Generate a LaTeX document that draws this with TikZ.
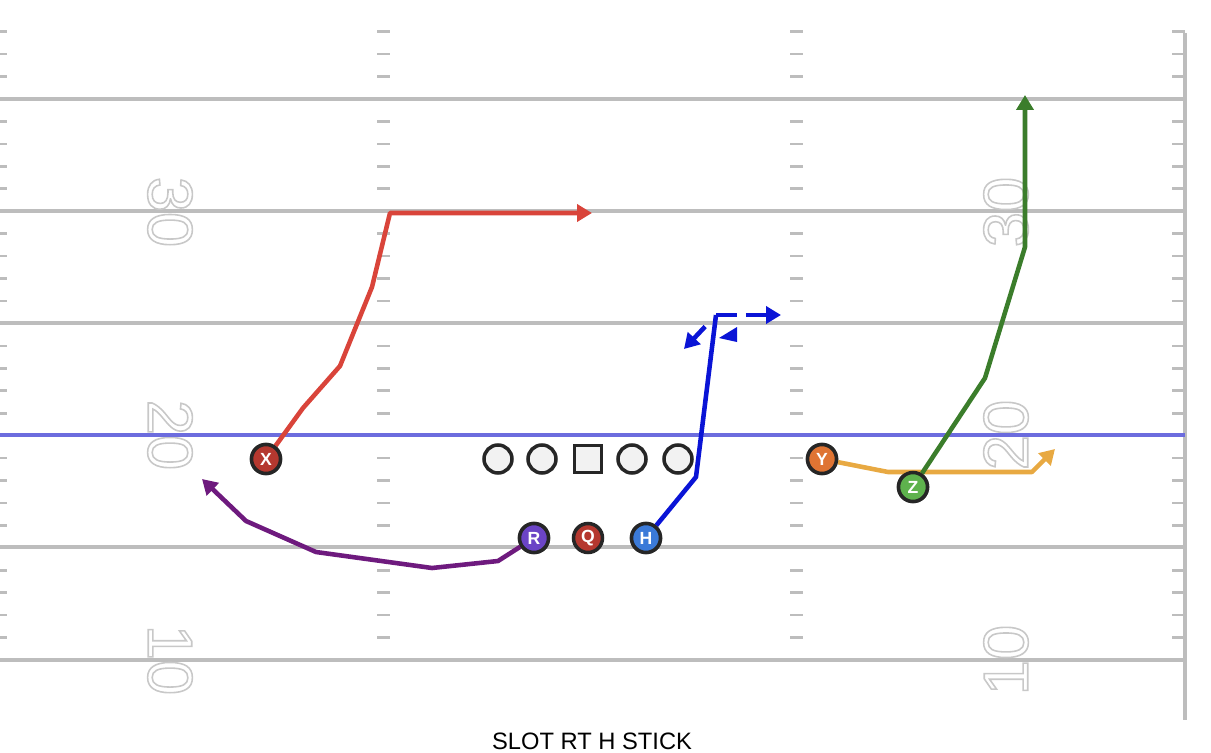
\documentclass[tikz,border=0pt]{standalone}
\usepackage{fontspec}
\setsansfont{Liberation Sans}
\usepackage{tikz}
\usetikzlibrary{arrows.meta}
\usetikzlibrary{positioning}
\definecolor{fieldgray}{HTML}{BDBDBD}
\definecolor{numgray}{HTML}{C8C8C8}
\definecolor{losblue}{HTML}{6C6CDE}
\definecolor{xred}{HTML}{B5382F}
\definecolor{routered}{HTML}{D9443A}
\definecolor{rpurple}{HTML}{6B44C6}
\definecolor{routepurple}{HTML}{6E1A7E}
\definecolor{hblue}{HTML}{3B7AD8}
\definecolor{routeblue}{HTML}{0A14D6}
\definecolor{yorange}{HTML}{DF7433}
\definecolor{routeorange}{HTML}{E8A942}
\definecolor{zgreen}{HTML}{5EB24D}
\definecolor{routegreen}{HTML}{3B7D2B}
\newcommand{\outlined}[1]{\special{pdf:literal direct 1 Tr 0.9 w}#1\special{pdf:literal direct 0 Tr}}
\tikzstyle{yardline} = [draw=fieldgray, line width=2.3pt]
\tikzstyle{hash} = [draw=fieldgray, line width=1.5pt]
\tikzstyle{yardnum} = [text=numgray, font=\sffamily\fontsize{36}{36}\selectfont, inner sep=0pt]
\tikzstyle{player} = [draw=black!85, line width=2pt, circle, minimum size=5.8mm,
    inner sep=0pt, text=white, font=\sffamily\bfseries\fontsize{10}{10}\selectfont]
\tikzstyle{lineman} = [draw=black!85, fill=gray!10, line width=2pt, circle,
    minimum size=5.6mm, inner sep=0pt]
\tikzstyle{center} = [draw=black!85, fill=gray!10, line width=2pt, rectangle,
    minimum size=5.4mm, inner sep=0pt]
\tikzstyle{route} = [line width=2.6pt, line join=round, -{Triangle[length=3mm,width=3.4mm]}]
\begin{document}
\begin{tikzpicture}[x=0.2mm, y=-0.2mm]
    \useasboundingbox (0,0) rectangle (1211,753);

    % field
    \foreach \yl in {99,211,323,547,660}
        \draw [yardline] (0,\yl) -- (1185,\yl);
    \draw [yardline] (1185,33) -- (1185,720);
    \foreach \i in {0,1,2,4,5,6,7,9,10,11,12,14,15,16,17,19,20,21,22,24,25,26,27} {
        \draw [hash] (0,99+22.44*\i-67.3) -- (7,99+22.44*\i-67.3);
        \draw [hash] (377,99+22.44*\i-67.3) -- (390,99+22.44*\i-67.3);
        \draw [hash] (790,99+22.44*\i-67.3) -- (803,99+22.44*\i-67.3);
        \draw [hash] (1172,99+22.44*\i-67.3) -- (1185,99+22.44*\i-67.3);
    }

    % yard numbers
    \node [yardnum, rotate=-90] (l30) at (170,212) {\outlined{30}};
    \node [yardnum, rotate=-90] (l20) at (170,435) {\outlined{20}};
    \node [yardnum, rotate=-90] (l10) at (170,660) {\outlined{10}};
    \node [yardnum, rotate=90] (r30) at (1006,212) {\outlined{30}};
    \node [yardnum, rotate=90] (r20) at (1006,435) {\outlined{20}};
    \node [yardnum, rotate=90] (r10) at (1006,660) {\outlined{10}};

    % line of scrimmage
    \draw [draw=losblue, line width=2.3pt] (0,435) -- (1185,435);

    % players
    \node [player, fill=xred] (X) at (266,459) {X};
    \node [player, fill=rpurple] (R) at (534,538) {R};
    \node [player, fill=xred] (Q) at (588,538) {Q};
    \node [player, fill=hblue] (H) at (646,538) {H};
    \node [player, fill=yorange] (Y) at (822,459) {Y};
    \node [player, fill=zgreen] (Z) at (913,487) {Z};

    \node [lineman] (lt) at (498,459) {};
    \node [lineman] (lg) at (542,459) {};
    \node [center] (c) at (588,459) {};
    \node [lineman] (rg) at (632,459) {};
    \node [lineman] (rt) at (678,459) {};

    % route points
    \coordinate (x1) at (303,408);
    \coordinate (x2) at (340,366);
    \coordinate (x3) at (372,287);
    \coordinate (x4) at (390,213);
    \coordinate (xend) at (592,213);
    \coordinate (r1) at (498,561);
    \coordinate (r2) at (432,568);
    \coordinate (r3) at (316,552);
    \coordinate (r4) at (246,521);
    \coordinate (rend) at (202,479);
    \coordinate (h1) at (696,477);
    \coordinate (h2) at (716,315);
    \coordinate (hend) at (781,315);
    \coordinate (hin) at (684,349);
    \coordinate (y1) at (888,472);
    \coordinate (y2) at (1032,472);
    \coordinate (yend) at (1055,449);
    \coordinate (z1) at (985,378);
    \coordinate (z2) at (1025,247);
    \coordinate (zend) at (1025,95);

    % routes
    \draw [route, routered] (X) -- (x1) -- (x2) -- (x3) -- (x4) -- (xend);
    \draw [route, routepurple] (R) -- (r1) -- (r2) -- (r3) -- (r4) -- (rend);
    \draw [route, routeblue, -] (H) -- (h1) -- (h2);
    \draw [route, routeblue, dash pattern=on 12pt off 5pt] (h2) -- (hend);
    \draw [route, routeblue, dash pattern=on 0pt off 9pt on 20pt] (h2) -- (hin);
    \fill [routeblue] (719,338) -- (737,327) -- (737,342) -- cycle;
    \draw [route, routeorange] (Y) -- (y1) -- (y2) -- (yend);
    \draw [route, routegreen] (Z) -- (z1) -- (z2) -- (zend);

    % redraw players on top of routes
    \node [player, fill=xred] at (X) {X};
    \node [player, fill=rpurple] at (R) {R};
    \node [player, fill=hblue] at (H) {H};
    \node [player, fill=yorange] at (Y) {Y};
    \node [player, fill=zgreen] at (Z) {Z};

    \node [font=\sffamily\fontsize{13.5}{16}\selectfont] (title) at (592,741) {SLOT RT H STICK};
\end{tikzpicture}
\end{document}
